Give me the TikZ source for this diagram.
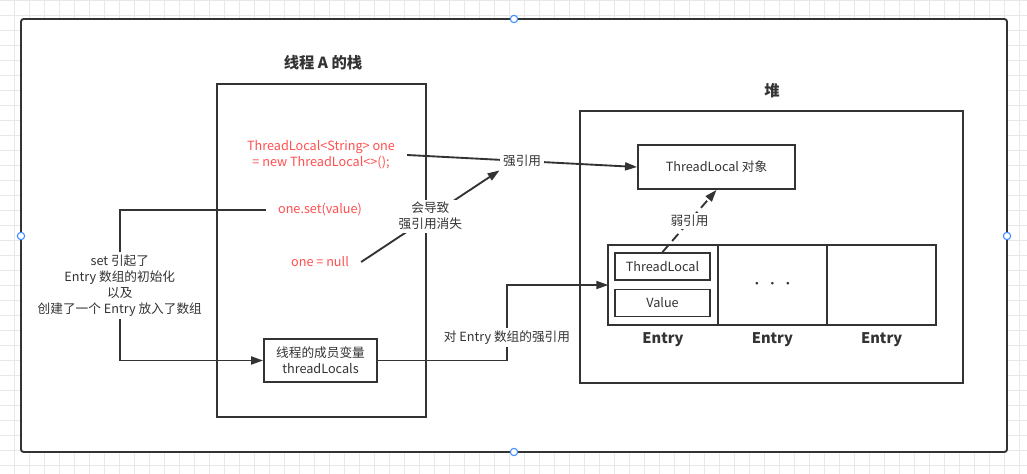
\documentclass[tikz,border=0pt]{standalone}
\usepackage{fontspec}
\setmainfont{Noto Sans CJK SC}
\usetikzlibrary{positioning,arrows.meta}
\definecolor{ink}{HTML}{333333}
\definecolor{codered}{HTML}{FF5050}
\definecolor{gridgray}{HTML}{E8E8E8}
\definecolor{handleblue}{HTML}{3D8BFF}
\newcommand{\txtsize}{\fontsize{9.5}{12}\selectfont}

\begin{document}
\begin{tikzpicture}[x=0.75pt,y=-0.75pt,
    box/.style={rectangle, draw=ink, text=ink, line width=1.4pt, inner sep=0pt, font=\txtsize, align=center},
    cell/.style={rectangle, draw=ink, text=ink, line width=1.4pt, minimum width=82pt, minimum height=60pt, outer sep=0pt, font=\txtsize},
    code/.style={text=codered, inner xsep=9pt, font=\txtsize, align=center},
    note/.style={fill=white, text=ink, inner sep=2pt, font=\txtsize, align=center},
    title/.style={text=ink, font=\fontsize{11.5}{13}\selectfont\bfseries},
    entrytag/.style={text=ink, font=\fontsize{11}{13}\selectfont\bfseries},
    handle/.style={circle, draw=handleblue, fill=white, line width=0.8pt, minimum size=5.5pt, inner sep=0pt},
    frame/.style={draw=ink, line width=1.4pt},
    link/.style={draw=ink, line width=1.4pt, -{Triangle[length=9pt,width=6pt]}},
    weak/.style={link, dash pattern=on 7pt off 4pt},]
    \useasboundingbox (0,0) rectangle (1027,474);
    % background
    \draw[gridgray, line width=0.5pt, xshift=-0.75pt] (0,0) grid[step=11.25pt] (1035,480);
    \draw[frame, fill=white, rounded corners=2pt] (21,19) rectangle (1007,452);
    \node[handle] (htop)    at (514,19)  {};
    \node[handle] (hleft)   at (21,236)  {};
    \node[handle] (hright)  at (1007,236) {};
    \node[handle] (hbottom) at (514,452) {};
    % stack of thread A
    \node[title] (stacktitle) at (323,63) {线程 A 的栈};
    \draw[frame] (217,84) rectangle (426,417);
    \node[code]  (decl)    at (321,155) {ThreadLocal<String> one\\= new ThreadLocal<>();};
    \node[code]  (setcall) at (320,210) {one.set(value)};
    \node[code]  (nullify) at (320,262) {one = null};
    \node[box, minimum width=84.75pt, minimum height=32.25pt] (members) at (320.5,360.5) {线程的成员变量\\threadLocals};
    % heap
    \node[title] (heaptitle) at (772,91) {堆};
    \draw[frame] (580,111) rectangle (963,383);
    \node[box, minimum width=117.75pt, minimum height=33pt] (tlobj) at (716.5,167) {ThreadLocal 对象};
    \node[cell] (cell1) at (663,285) {};
    \node[cell] (cell2) [right=0pt of cell1] {· · ·};
    \node[cell] (cell3) [right=0pt of cell2] {};
    \node[box, minimum width=71.25pt, minimum height=20.25pt] (tlkey) at (662.5,266.5) {ThreadLocal};
    \node[box, minimum width=71.25pt, minimum height=20.25pt] (tlval) at (662.5,303) {Value};
    \node[entrytag] (entry1) [below=2pt of cell1] {Entry};
    \node[entrytag] (entry2) [below=2pt of cell2] {Entry};
    \node[entrytag] (entry3) [below=2pt of cell3] {Entry};
    % references
    \draw[link] (decl.east) -- node[note] (strong) {强引用} (tlobj.west);
    \draw[link] (nullify.east) -- node[note] {会导致\\强引用消失} (strong.south west);
    \draw[link] (setcall.west) -- ++(-146,0) |- node[note, pos=0.25] {set 引起了\\Entry 数组的初始化\\以及\\创建了一个 Entry 放入了数组} (members.west);
    \draw[link] (members.east) -- ++(129,0) |- node[note, pos=0.15] {对 Entry 数组的强引用} (cell1.west);
    \draw[weak] (tlkey.north) -- node[note] {弱引用} (tlobj.south);
\end{tikzpicture}
\end{document}
